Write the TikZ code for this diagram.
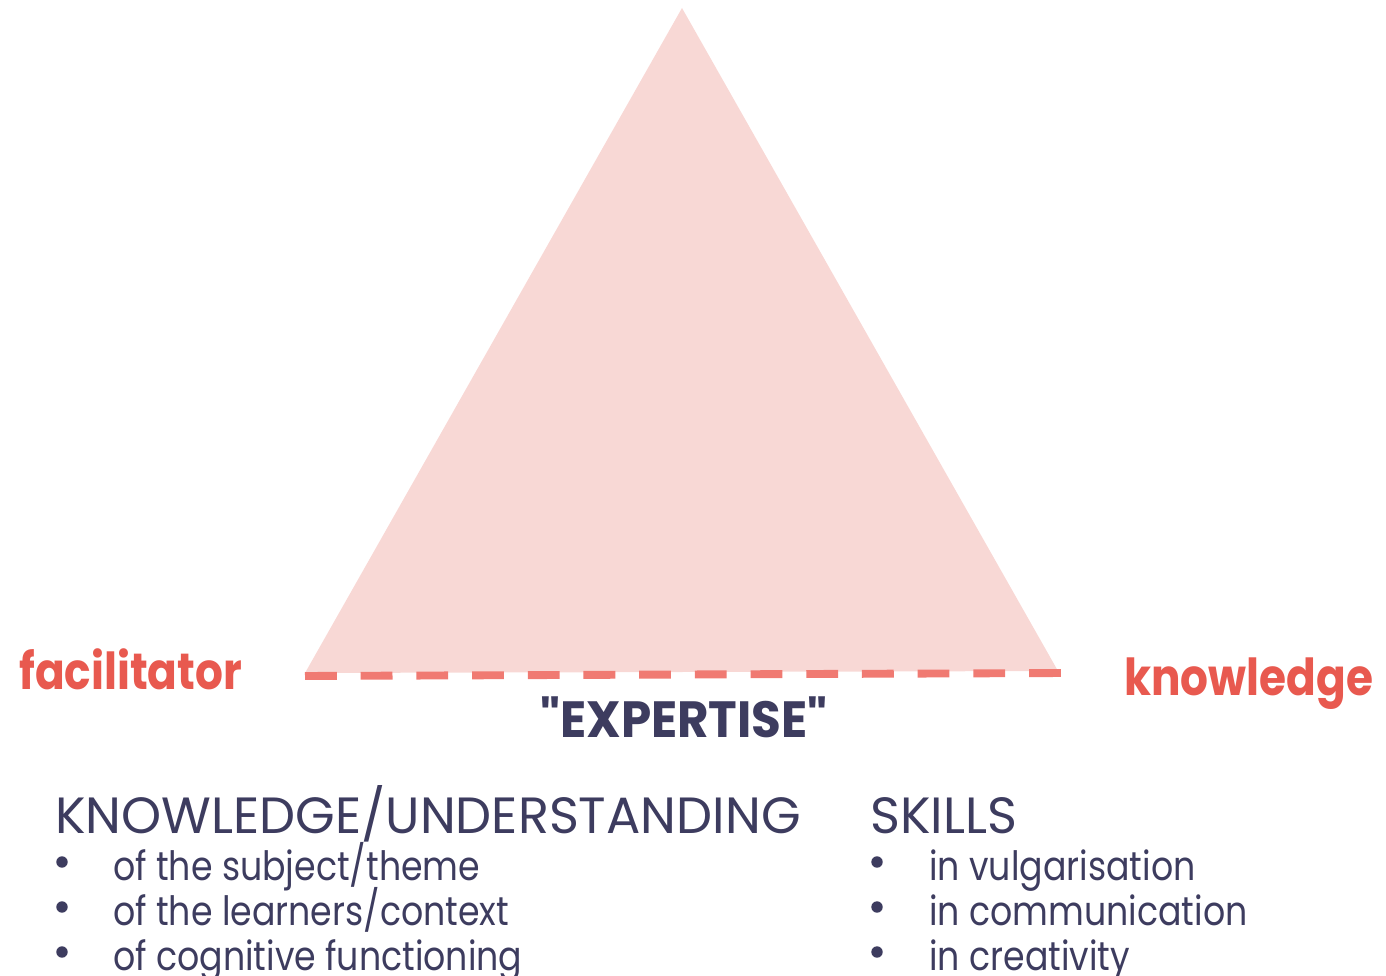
\documentclass[tikz,border=0pt]{standalone}
\usepackage{fontspec}
\setmainfont{Poppins}
\newfontfamily\cornerfont{Poppins}[FakeStretch=0.86]
\newfontfamily\expertfont{Poppins}[FakeStretch=0.95]
\newfontfamily\itemfont{Poppins}[FakeStretch=0.86]
\usetikzlibrary{positioning}
\definecolor{blush}{RGB}{248, 216, 213}
\definecolor{coral}{RGB}{240, 122, 114}
\definecolor{salmon}{RGB}{232, 89, 79}
\definecolor{slate}{RGB}{61, 60, 95}
\tikzset{
  corner/.style={text=salmon, font=\cornerfont\bfseries\fontsize{29}{30}\selectfont, inner sep=0pt, anchor=base west},
  heading/.style={text=slate, font=\fontsize{29}{30}\selectfont, inner sep=0pt, anchor=base west},
  item/.style={text=slate, font=\itemfont\fontsize{23}{24}\selectfont, inner sep=0pt, anchor=base west},
  dot/.style={circle, fill=slate, inner sep=0pt, minimum size=6.5pt}
}

\begin{document}
\begin{tikzpicture}[x=0.02cm, y=-0.02cm]
            \useasboundingbox (0,0) rectangle (1386,976);
            % triangle
            \fill[blush] (682,8) coordinate (apex) -- (1058,671) coordinate (right) -- (305,673) coordinate (left) -- cycle;
            \coordinate (baseL) at (305,676);
            \coordinate (baseR) at (1064,673);
            \draw[coral, line width=4.5pt, dash pattern=on 18.1pt off 13.6pt] (baseL) -- (baseR);
            % corners
            \node[corner] (facil) at (19,689) {facilitator};
            \node[corner] (know)  at (1124,695) {knowledge};
            \node[heading, font=\expertfont\bfseries\fontsize{29}{30}\selectfont] (expert) at (540,737) {"EXPERTISE"};
            % lists
            \node[heading] (kuhead) at (55,833) {KNOWLEDGE/UNDERSTANDING};
            \node[heading] (skhead) at (870,833) {SKILLS};
            \foreach \txt [count=\i] in {of the subject/theme, of the learners/context, of cognitive functioning} {
                \node[item] (ku\i) at (113,{835+45*\i}) {\txt};
                \node[dot]  (kudot\i) at (62,{817+45*\i}) {};
            }
            \foreach \txt [count=\i] in {in vulgarisation, in communication, in creativity} {
                \node[item] (sk\i) at (929,{835+45*\i}) {\txt};
                \node[dot]  (skdot\i) at (877,{817+45*\i}) {};
            }
        \end{tikzpicture}
\end{document}
